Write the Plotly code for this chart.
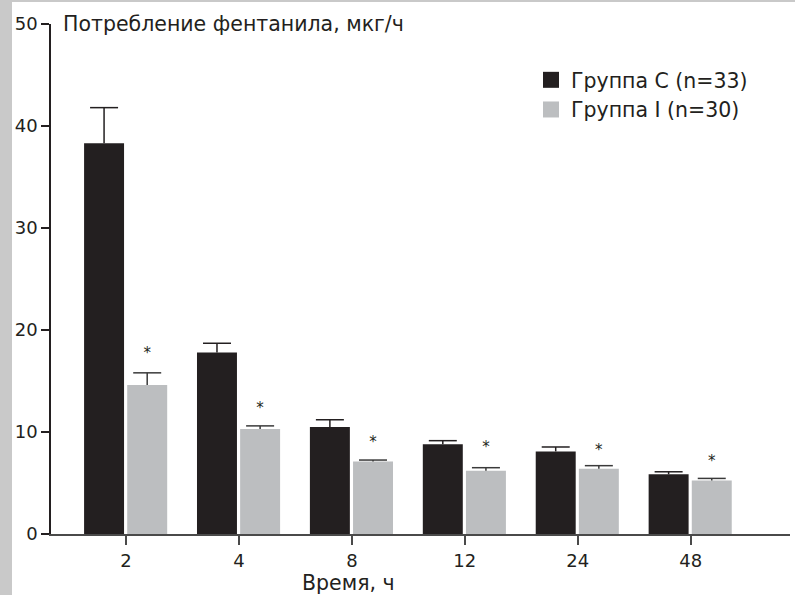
import plotly.graph_objects as go

# ---- data ----
hours = ["2", "4", "8", "12", "24", "48"]
group_c = [38.3, 17.8, 10.5, 8.8, 8.1, 5.85]
group_c_err = [3.5, 0.9, 0.7, 0.35, 0.43, 0.25]
group_i = [14.6, 10.3, 7.1, 6.2, 6.4, 5.25]
group_i_err = [1.2, 0.3, 0.15, 0.3, 0.3, 0.2]
star_level = [17.6, 12.2, 8.9, 8.4, 8.1, 7.0]
name_c = "Группа С (n=33)"
name_i = "Группа I (n=30)"
y_title = "Потребление фентанила, мкг/ч"
x_title = "Время, ч"

BLACK = "#231F20"
GRAY = "#BCBEC0"
ERR_I = "#3a3a3a"
FONT = "DejaVu Sans"

pos = list(range(len(hours)))
BW = 0.354
OFF_C = -0.372
OFF_I = 0.01

fig = go.Figure()
for vals, errs, off, col, ecol, nm in [
    (group_c, group_c_err, OFF_C, BLACK, BLACK, name_c),
    (group_i, group_i_err, OFF_I, GRAY, ERR_I, name_i),
]:
    fig.add_trace(go.Bar(
        x=pos, y=vals, width=BW, offset=off,
        marker=dict(color=col, line=dict(width=0)),
        error_y=dict(type="data", array=errs, arrayminus=[0] * len(pos),
                     symmetric=False, color=ecol, thickness=1.5, width=0),
        showlegend=False, name=nm))
    # error-bar caps (top only)
    fig.add_trace(go.Scatter(
        x=[p + off + BW / 2 for p in pos], y=[v + e for v, e in zip(vals, errs)],
        mode="markers",
        marker=dict(symbol="line-ew", size=20, line=dict(width=1.5, color=ecol)),
        showlegend=False, hoverinfo="skip"))

# significance stars above group I bars
fig.add_trace(go.Scatter(
    x=[p + OFF_I + BW / 2 for p in pos], y=star_level, mode="text",
    text=["*"] * len(pos), textposition="middle center",
    textfont=dict(family=FONT, size=15, color=BLACK),
    showlegend=False, hoverinfo="skip"))

# legend entries
fig.add_trace(go.Scatter(x=[None], y=[None], mode="markers", name=name_c,
                         marker=dict(symbol="square", size=16, color=BLACK),
                         legendgroup="c"))
fig.add_trace(go.Scatter(x=[None], y=[None], mode="markers", name=name_i,
                         marker=dict(symbol="square", size=16, color=GRAY),
                         legendgroup="i"))

L, R, T, B = 51, 5, 24, 61
W, H = 795, 595
pw, ph = W - L - R, H - T - B


def px_x(px):
    return (px - L) / pw


def px_y(py):
    return (H - B - py) / ph


TEXT_SIZE = 20.5

fig.update_layout(
    width=W, height=H,
    margin=dict(l=L, r=R, t=T, b=B),
    paper_bgcolor="white", plot_bgcolor="white",
    barmode="overlay",
    font=dict(family=FONT, size=18, color=BLACK),
    legend=dict(x=px_x(531), y=px_y(60), xanchor="left", yanchor="top",
                bgcolor="rgba(0,0,0,0)", traceorder="grouped", tracegroupgap=0,
                itemsizing="trace", font=dict(family=FONT, size=TEXT_SIZE, color=BLACK)),
    xaxis=dict(range=[-0.665, 5.88], tickvals=pos, ticktext=hours,
               showline=True, linecolor="#4a4a4a", linewidth=2,
               ticks="outside", ticklen=9, tickwidth=1.5, tickcolor="#4a4a4a",
               showgrid=False, zeroline=False, fixedrange=True,
               tickfont=dict(family=FONT, size=18, color=BLACK)),
    yaxis=dict(range=[0, 50], tickvals=[0, 10, 20, 30, 40, 50],
               showline=True, linecolor=BLACK, linewidth=1.5,
               ticks="outside", ticklen=8, tickwidth=1.5, tickcolor=BLACK,
               showgrid=False, zeroline=False, fixedrange=True,
               tickfont=dict(family=FONT, size=18, color=BLACK)),
    annotations=[
        dict(text=y_title, xref="paper", yref="paper",
             x=px_x(61), y=px_y(24), xanchor="left", yanchor="middle",
             showarrow=False, font=dict(family=FONT, size=TEXT_SIZE, color=BLACK)),
        dict(text=x_title, xref="paper", yref="paper",
             x=px_x(348), y=px_y(583), xanchor="center", yanchor="middle",
             showarrow=False, font=dict(family=FONT, size=TEXT_SIZE, color=BLACK)),
    ],
    shapes=[
        dict(type="rect", xref="paper", yref="paper",
             x0=px_x(0), x1=px_x(12), y0=px_y(H), y1=px_y(0),
             fillcolor="#C9C9C9", line=dict(width=0), layer="below"),
        dict(type="rect", xref="paper", yref="paper",
             x0=px_x(0), x1=px_x(W), y0=px_y(2), y1=px_y(0),
             fillcolor="#C9C9C9", line=dict(width=0), layer="below"),
    ],
)

fig.write_html("out.html", config={"displayModeBar": False},
               post_script="document.body.style.margin='0';document.body.style.overflow='hidden';")
